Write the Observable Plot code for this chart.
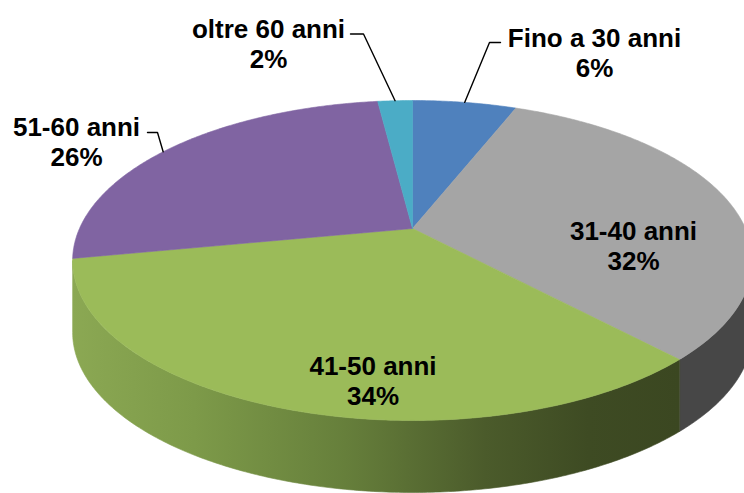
<!DOCTYPE html>
<html>
<head>
<meta charset="utf-8">
<script src="https://cdn.jsdelivr.net/npm/d3@7"></script>
<script src="https://cdn.jsdelivr.net/npm/@observablehq/plot@0.6"></script>
<style>
  html, body { margin: 0; padding: 0; background: #fff; overflow: hidden; }
  #chart { width: 744px; height: 493px; }
</style>
</head>
<body>
<div id="chart"></div>
<script>
// ---- data ----
const categories = ["Fino a 30 anni", "31-40 anni", "41-50 anni", "51-60 anni", "oltre 60 anni"];
const percents = [6, 32, 34, 26, 2];

// ---- styles ----
const topColors = ["#4F81BD", "#A5A5A5", "#9BBB59", "#8064A2", "#4BACC6"];
const sideColors = ["#3B6090", "#474747", "url(#gside)", "#5F4A7A", "#358096"];

// ---- layout (3D pie geometry, pixels) ----
const W = 744, H = 493;
const CX = 412, CY = 228;     // projected pie centre
const A = 333, B = 153.6;     // radii before perspective
const K = -0.2;               // perspective factor
const DEPTH = 72;             // pie thickness

// label layout: centre x of the text block, baseline of first line, leader elbow/end,
// and an angular nudge (radians) of the leader's anchor on the slice rim
const labelLayout = {
  "Fino a 30 anni": {x: 594, y: 43.5, leader: [[489, 42], [500, 42]], nudge: 0},
  "31-40 anni": {x: 633, y: 237},
  "41-50 anni": {x: 372.5, y: 371.5},
  "51-60 anni": {x: 76, y: 133, leader: [[157, 132], [147, 132]], nudge: -0.04},
  "oltre 60 anni": {x: 268, y: 34.5, leader: [[363, 33.5], [350, 33.5]], nudge: 0}
};

function proj(theta, r = 1) {
  const u = r * Math.sin(theta), v = -r * Math.cos(theta), w = 1 + K * v;
  return [CX + A * u / w, CY + B * v / w];
}
function arcPts(a0, a1) {
  const n = Math.max(2, Math.ceil((a1 - a0) / 0.01));
  const pts = [];
  for (let i = 0; i <= n; i++) pts.push(proj(a0 + (a1 - a0) * i / n));
  return pts;
}

const rows = categories.map((c, i) => ({cat: c, value: percents[i], i}));
const arcs = d3.pie().sort(null).value(d => d.value)(rows);

// top faces
const topPts = [];
arcs.forEach(a => {
  const c = a.data.cat;
  topPts.push({cat: c, x: CX, y: CY});
  arcPts(a.startAngle, a.endAngle).forEach(([x, y]) => topPts.push({cat: c, x, y}));
  topPts.push({cat: c, x: CX, y: CY});
});

// visible side walls (front half, between silhouette tangents)
const T1 = Math.acos(K), T2 = 2 * Math.PI - Math.acos(K);
const sides = [];
arcs.forEach(a => {
  const s = Math.max(a.startAngle, T1), e = Math.min(a.endAngle, T2);
  if (s < e) {
    const top = arcPts(s, e);
    const pts = top.concat(top.slice().reverse().map(([x, y]) => [x, y + DEPTH]));
    sides.push({cat: a.data.cat, fill: sideColors[a.data.i], pts: pts.map(([x, y]) => ({x, y}))});
  }
});

// labels & leaders
const labels = arcs.map(a => {
  const c = a.data.cat, L = labelLayout[c];
  return {cat: c, x: L.x, y: L.y, text: `${c}\n${a.data.value}%`};
});
const leaders = [];
arcs.forEach(a => {
  const L = labelLayout[a.data.cat];
  if (!L.leader) return;
  const [sx, sy] = proj((a.startAngle + a.endAngle) / 2 + (L.nudge || 0));
  leaders.push({cat: a.data.cat, x: sx, y: sy});
  L.leader.forEach(([x, y]) => leaders.push({cat: a.data.cat, x, y}));
});

const FS = 26;
const chart = Plot.plot({
  width: W,
  height: H,
  margin: 0,
  style: {background: "#fff", overflow: "hidden"},
  x: {domain: [0, W], range: [0, W], axis: null},
  y: {domain: [0, H], range: [0, H], axis: null},
  color: {domain: categories, range: topColors},
  marks: [
    ...sides.map(s => Plot.line(s.pts, {x: "x", y: "y", fill: s.fill, stroke: s.fill, strokeWidth: 0.6, curve: "linear-closed"})),
    Plot.line(topPts, {x: "x", y: "y", z: "cat", fill: "cat", stroke: "cat", strokeWidth: 0.6, curve: "linear-closed"}),
    Plot.line(leaders, {x: "x", y: "y", z: "cat", stroke: "#000", strokeWidth: 1.4}),
    Plot.text(labels, {
      x: "x", y: (d) => d.y - 0.71 * FS, text: "text",
      lineAnchor: "top", lineHeight: 30 / FS,
      fontSize: FS, fontWeight: "bold", fill: "#000",
      fontFamily: "'Liberation Sans', Arial, sans-serif"
    })
  ]
});

const ns = "http://www.w3.org/2000/svg";
const defs = document.createElementNS(ns, "defs");
defs.innerHTML = `<linearGradient id="gside" x1="0" y1="0" x2="1" y2="0">
  <stop offset="0" stop-color="#8BA853"/>
  <stop offset="0.2" stop-color="#7D9A49"/>
  <stop offset="0.45" stop-color="#667F3B"/>
  <stop offset="0.68" stop-color="#4B5B2B"/>
  <stop offset="0.85" stop-color="#3E4B23"/>
  <stop offset="1" stop-color="#3B4721"/>
</linearGradient>`;
chart.insertBefore(defs, chart.firstChild);
document.getElementById("chart").appendChild(chart);
</script>
</body>
</html>
